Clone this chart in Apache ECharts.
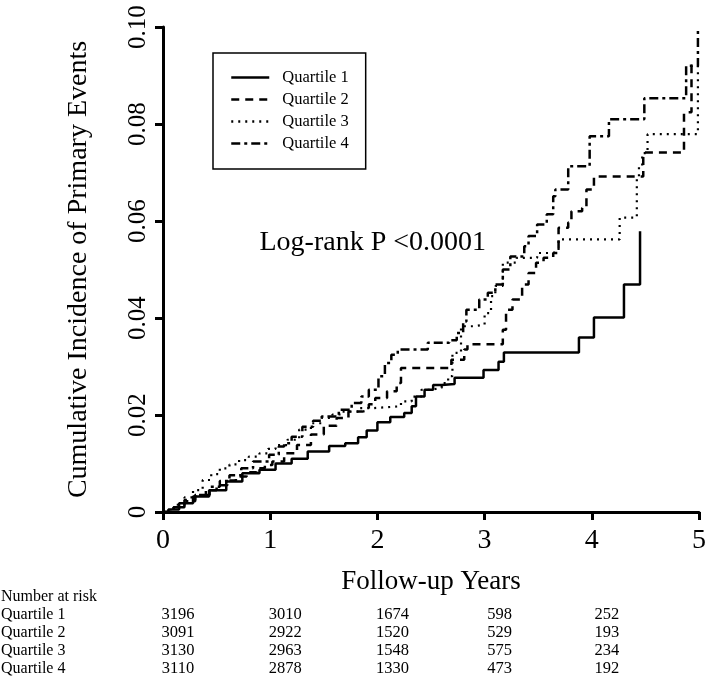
<!DOCTYPE html>
<html>
<head>
<meta charset="utf-8">
<script src="https://cdn.jsdelivr.net/npm/echarts@6/dist/echarts.min.js"></script>
<style>
html,body{margin:0;padding:0;background:#fff;}
#chart{width:709px;height:677px;}
</style>
</head>
<body>
<div id="chart"></div>
<script>
// ---- data ----
const seriesNames = ['Quartile 1', 'Quartile 2', 'Quartile 3', 'Quartile 4'];

const q1Times  = [0, 0.05, 0.15, 0.28, 0.43, 0.59, 0.74, 0.90, 1.05, 1.20, 1.35, 1.55, 1.70, 1.82, 1.90, 2.00, 2.12, 2.25, 2.32, 2.36, 2.44, 2.52, 2.60, 2.72, 2.99, 3.13, 3.18, 3.88, 4.02, 4.30, 4.45];
const q1Values = [0, 0.0005, 0.0018, 0.0032, 0.0045, 0.0063, 0.0080, 0.0087, 0.0100, 0.0110, 0.0125, 0.0136, 0.0142, 0.0154, 0.0168, 0.0185, 0.0196, 0.0204, 0.0218, 0.0238, 0.0252, 0.0262, 0.0264, 0.0277, 0.0293, 0.0310, 0.0329, 0.0360, 0.0401, 0.0469, 0.0579];

const q2Times  = [0, 0.10, 0.20, 0.30, 0.40, 0.50, 0.60, 0.68, 0.78, 0.87, 0.95, 1.02, 1.13, 1.25, 1.38, 1.50, 1.62, 1.73, 1.86, 1.92, 1.98, 2.09, 2.18, 2.22, 2.69, 2.81, 2.84, 3.17, 3.20, 3.26, 3.35, 3.41, 3.48, 3.55, 3.64, 3.69, 3.78, 3.81, 3.91, 3.95, 4.02, 4.48, 4.86, 4.93, 5.00];
const q2Values = [0, 0.0010, 0.0025, 0.0035, 0.0045, 0.0055, 0.0065, 0.0073, 0.0082, 0.0090, 0.0097, 0.0104, 0.0121, 0.0138, 0.0160, 0.0178, 0.0194, 0.0207, 0.0210, 0.0222, 0.0235, 0.0249, 0.0266, 0.0297, 0.0314, 0.0335, 0.0346, 0.0376, 0.0417, 0.0438, 0.0469, 0.0493, 0.0514, 0.0524, 0.0534, 0.0586, 0.0597, 0.0620, 0.0627, 0.0665, 0.0692, 0.0741, 0.0824, 0.0920, 0.0920];

const q3Times  = [0, 0.10, 0.20, 0.28, 0.37, 0.45, 0.53, 0.62, 0.71, 0.80, 0.90, 0.98, 1.05, 1.16, 1.27, 1.38, 1.48, 1.58, 1.67, 1.82, 1.95, 2.22, 2.32, 2.41, 2.50, 2.60, 2.66, 2.70, 2.78, 2.90, 3.00, 3.06, 3.10, 3.17, 3.30, 3.49, 3.64, 3.69, 4.26, 4.42, 4.44, 4.47, 4.52, 4.99];
const q3Values = [0, 0.0015, 0.0030, 0.0045, 0.0066, 0.0078, 0.0090, 0.0098, 0.0107, 0.0114, 0.0121, 0.0130, 0.0138, 0.0149, 0.0170, 0.0183, 0.0194, 0.0201, 0.0207, 0.0214, 0.0218, 0.0228, 0.0238, 0.0252, 0.0256, 0.0266, 0.0280, 0.0328, 0.0383, 0.0386, 0.0410, 0.0445, 0.0466, 0.0514, 0.0524, 0.0534, 0.0538, 0.0562, 0.0607, 0.0692, 0.0713, 0.0740, 0.0779, 0.0920];

const q4Times  = [0, 0.10, 0.20, 0.30, 0.435, 0.53, 0.62, 0.73, 0.84, 0.99, 1.08, 1.13, 1.20, 1.30, 1.40, 1.48, 1.64, 1.76, 1.85, 1.92, 2.01, 2.07, 2.13, 2.19, 2.47, 2.67, 2.74, 2.80, 2.83, 2.95, 3.03, 3.10, 3.17, 3.24, 3.37, 3.41, 3.49, 3.58, 3.64, 3.66, 3.78, 3.98, 4.16, 4.49, 4.88, 4.99];
const q4Values = [0, 0.0010, 0.0022, 0.0035, 0.0052, 0.0064, 0.0076, 0.0090, 0.0104, 0.0118, 0.0135, 0.0142, 0.0155, 0.0176, 0.0188, 0.0197, 0.0211, 0.0225, 0.0238, 0.0252, 0.0280, 0.0307, 0.0324, 0.0335, 0.0349, 0.0354, 0.0369, 0.0393, 0.0417, 0.0438, 0.0452, 0.0469, 0.0500, 0.0527, 0.0548, 0.0569, 0.0593, 0.0614, 0.0651, 0.0665, 0.0713, 0.0775, 0.0810, 0.0853, 0.0920, 0.1000];

const xTicks = [0, 1, 2, 3, 4, 5];
const yTicks = [0, 0.02, 0.04, 0.06, 0.08, 0.10];

const riskYears = [0, 1, 2, 3, 4];
const riskQ1 = [3196, 3010, 1674, 598, 252];
const riskQ2 = [3091, 2922, 1520, 529, 193];
const riskQ3 = [3130, 2963, 1548, 575, 234];
const riskQ4 = [3110, 2878, 1330, 473, 192];

const pText = 'Log-rank P <0.0001';

// ---- chart ----
const FONT = '"Liberation Serif", "Times New Roman", serif';
const chart = echarts.init(document.getElementById('chart'), null, {renderer: 'canvas'});

function pairs(t, v) { return t.map((x, i) => [x, v[i]]); }

const styles = [
  {type: 'solid', width: 2.5},
  {type: [8, 6], width: 2.5},
  {type: [2, 5], width: 2.2},
  {type: [9, 4, 3, 4], width: 2.5}
];
const dataSets = [pairs(q1Times, q1Values), pairs(q2Times, q2Values), pairs(q3Times, q3Values), pairs(q4Times, q4Values)];

const option = {
  animation: false,
  backgroundColor: '#fff',
  grid: {left: 163, right: 6, top: 27, bottom: 165, containLabel: false},
  legend: {
    orient: 'vertical',
    left: 213, top: 53,
    padding: [16, 17, 17, 17],
    itemWidth: 38, itemHeight: 14, itemGap: 5,
    borderColor: '#000', borderWidth: 1.5,
    itemStyle: {opacity: 0},
    lineStyle: {width: 2.5},
    textStyle: {fontFamily: FONT, fontSize: 16.5, color: '#000', padding: [0, 0, 0, 8]},
    data: seriesNames
  },
  xAxis: {
    type: 'value', min: 0, max: 5, interval: 1,
    name: 'Follow-up Years', nameLocation: 'middle', nameGap: 56,
    nameTextStyle: {fontFamily: FONT, fontSize: 27, color: '#000'},
    axisLine: {show: true, onZero: false, lineStyle: {color: '#000', width: 3}},
    axisTick: {show: true, length: 8, lineStyle: {color: '#000', width: 3}},
    axisLabel: {fontFamily: FONT, fontSize: 28, color: '#000', margin: 15, showMinLabel: true, showMaxLabel: true},
    splitLine: {show: false}
  },
  yAxis: {
    type: 'value', min: 0, max: 0.1, interval: 0.02,
    name: 'Cumulative Incidence of Primary Events', nameLocation: 'middle', nameGap: 70,
    nameTextStyle: {fontFamily: FONT, fontSize: 28, color: '#000'},
    axisLine: {show: true, onZero: false, lineStyle: {color: '#000', width: 3}},
    axisTick: {show: true, length: 8, lineStyle: {color: '#000', width: 3}},
    axisLabel: {
      fontFamily: FONT, fontSize: 25, color: '#000', rotate: 90, margin: 12,
      formatter: v => (v === 0 ? '0' : v.toFixed(2))
    },
    splitLine: {show: false}
  },
  series: dataSets.map((d, i) => ({
    name: seriesNames[i],
    type: 'line',
    step: 'end',
    data: d,
    symbol: 'none',
    color: '#000',
    lineStyle: {color: '#000', width: styles[i].width, type: styles[i].type},
    z: 2
  }))
};
chart.setOption(option);

// Text overlays: log-rank text + number-at-risk table
const pLeft = chart.convertToPixel({xAxisIndex: 0}, 0.9);
const pMid = chart.convertToPixel({yAxisIndex: 0}, 0.0555);
const graphics = [];
graphics.push({type: 'text', x: pLeft, y: pMid,
  style: {text: pText, font: '28px ' + FONT, fill: '#000', textVerticalAlign: 'middle'}});

const tableRows = [
  ['Quartile 1', riskQ1], ['Quartile 2', riskQ2], ['Quartile 3', riskQ3], ['Quartile 4', riskQ4]
];
const rowTop0 = 597, rowStep = 18;
graphics.push({type: 'text', x: 1, y: rowTop0, style: {text: 'Number at risk', font: '16px ' + FONT, fill: '#000', textVerticalAlign: 'middle'}});
tableRows.forEach((row, r) => {
  const y = rowTop0 + rowStep * (r + 1);
  graphics.push({type: 'text', x: 1, y: y, style: {text: row[0], font: '16px ' + FONT, fill: '#000', textVerticalAlign: 'middle'}});
  row[1].forEach((n, c) => {
    const x = chart.convertToPixel({xAxisIndex: 0}, riskYears[c]) + 15;
    graphics.push({type: 'text', x: x, y: y, style: {text: String(n), font: '16.5px ' + FONT, fill: '#000', textAlign: 'center', textVerticalAlign: 'middle'}});
  });
});
chart.setOption({graphic: graphics});
</script>
</body>
</html>
